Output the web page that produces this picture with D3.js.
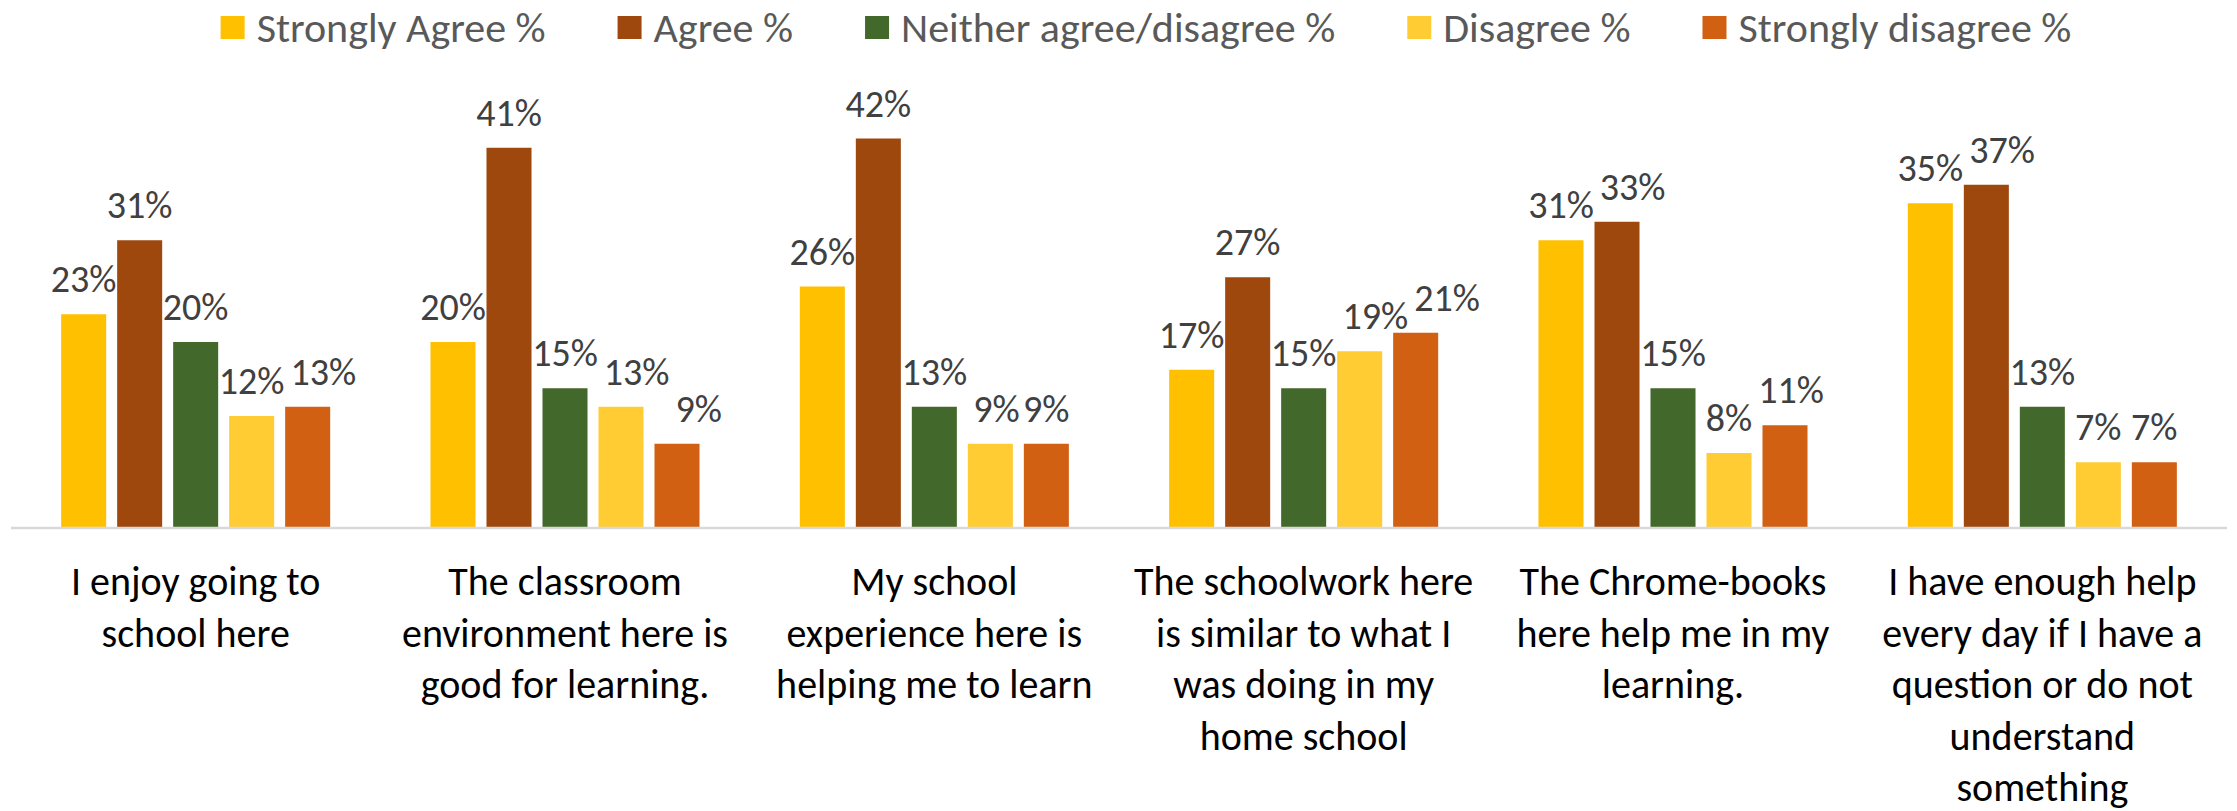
<!DOCTYPE html>
<html>
<head>
<meta charset="utf-8">
<script src="https://cdn.jsdelivr.net/npm/d3@7"></script>
<style>
  body { margin: 0; background: #fff; }
  text { font-family: Carlito, Lato, "Open Sans", sans-serif; }
</style>
</head>
<body>
<div id="graph1"></div>
<script>
// categories (already wrapped the way the source chart wraps them)
let categories = [
    ["I enjoy going to", "school here"],
    ["The classroom", "environment here is", "good for learning."],
    ["My school", "experience here is", "helping me to learn"],
    ["The schoolwork here", "is similar to what I", "was doing in my", "home school"],
    ["The Chrome-books", "here help me in my", "learning."],
    ["I have enough help", "every day if I have a", "question or do not", "understand", "something"]
];

let series_names = ["Strongly Agree %", "Agree %", "Neither agree/disagree %", "Disagree %", "Strongly disagree %"];
let series_colors = ["#FFC000", "#9E480E", "#43682B", "#FFCD33", "#D26012"];

let strongly_agree = [23, 20, 26, 17, 31, 35];
let agree = [31, 41, 42, 27, 33, 37];
let neither = [20, 15, 13, 15, 15, 13];
let disagree = [12, 13, 9, 19, 8, 7];
let strongly_disagree = [13, 9, 9, 21, 11, 7];

let series_values = [strongly_agree, agree, neither, disagree, strongly_disagree];

let graph_1_width = 2237, graph_1_height = 811;
let baseline = 527;
let left = 11, right = 2227;

let svg1 = d3.select("#graph1")
    .append("svg")
    .attr("width", graph_1_width)
    .attr("height", graph_1_height);

let x0 = d3.scaleBand()
    .domain(d3.range(categories.length))
    .range([left, right])
    .paddingInner(0.2716)
    .paddingOuter(0.1358);

let x1 = d3.scaleBand()
    .domain(d3.range(series_names.length))
    .range([0, x0.bandwidth()])
    .paddingInner(0.196);

let y = d3.scaleLinear()
    .domain([0, 45])
    .range([baseline, baseline - 45 * 9.25]);

// bars
let groups = svg1.selectAll("g.group")
    .data(categories)
    .enter()
    .append("g")
    .attr("class", "group")
    .attr("transform", function(d, i) { return `translate(${x0(i)}, 0)`; });

groups.selectAll("rect")
    .data(function(d, i) { return series_values.map(function(s, j) { return { s: j, v: s[i] }; }); })
    .enter()
    .append("rect")
    .attr("x", function(d) { return x1(d.s); })
    .attr("y", function(d) { return y(d.v); })
    .attr("width", x1.bandwidth())
    .attr("height", function(d) { return y(0) - y(d.v); })
    .attr("fill", function(d) { return series_colors[d.s]; });

groups.selectAll("text.value")
    .data(function(d, i) { return series_values.map(function(s, j) { return { s: j, v: s[i] }; }); })
    .enter()
    .append("text")
    .attr("class", "value")
    .attr("x", function(d) { return x1(d.s) + x1.bandwidth() / 2; })
    .attr("y", function(d) { return y(d.v) - 22; })
    .style("text-anchor", "middle")
    .style("font-size", "38px")
    .style("fill", "#404040")
    .text(function(d) { return d.v + "%"; });

// nudge a value label to the right when it runs into the one before it
groups.each(function() {
    let prev = null;
    d3.select(this).selectAll("text.value").each(function() {
        let b = this.getBBox();
        if (prev) {
            let overlapX = prev.x + prev.width - b.x;
            let overlapY = Math.min(prev.y + prev.height, b.y + b.height) - Math.max(prev.y, b.y);
            if (overlapX > 0 && overlapY > 8) {
                let shift = overlapX + 6;
                d3.select(this).attr("x", +d3.select(this).attr("x") + shift);
                b = { x: b.x + shift, y: b.y, width: b.width, height: b.height };
            }
        }
        prev = b;
    });
});

// category axis line
svg1.append("line")
    .attr("x1", left)
    .attr("x2", right)
    .attr("y1", y(0) + 1)
    .attr("y2", y(0) + 1)
    .style("stroke", "#D9D9D9")
    .style("stroke-width", 2.5);

// category labels
let cat_labels = svg1.selectAll("text.cat")
    .data(categories)
    .enter()
    .append("text")
    .attr("class", "cat")
    .attr("transform", function(d, i) { return `translate(${x0(i) + x0.bandwidth() / 2}, 595)`; })
    .style("text-anchor", "middle")
    .style("font-size", "40px")
    .style("fill", "#000");

cat_labels.selectAll("tspan")
    .data(function(d) { return d; })
    .enter()
    .append("tspan")
    .attr("x", 0)
    .attr("y", function(d, i) { return i * 51.5; })
    .text(function(d) { return d; });

// legend
let legend = svg1.append("g");
let items = legend.selectAll("g")
    .data(series_names)
    .enter()
    .append("g");

items.append("rect")
    .attr("width", 24)
    .attr("height", 23)
    .attr("y", 16)
    .attr("fill", function(d, i) { return series_colors[i]; });

items.append("text")
    .attr("x", 36)
    .attr("y", 42)
    .style("font-size", "42px")
    .style("fill", "#595959")
    .text(function(d) { return d; });

let gap = 72;
let pos = 0;
items.each(function() {
    let w = this.getBBox().width;
    d3.select(this).attr("transform", `translate(${pos}, 0)`);
    pos += w + gap;
});
let legend_width = pos - gap;
legend.attr("transform", `translate(${1146 - legend_width / 2}, 0)`);
</script>
</body>
</html>
